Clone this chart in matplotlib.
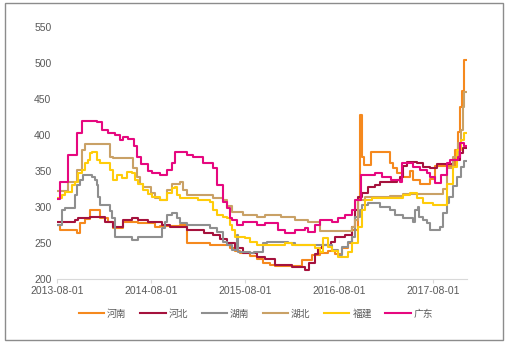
import matplotlib
matplotlib.use("Agg")
import matplotlib.pyplot as plt
import matplotlib.dates as mdates
import pandas as pd
from matplotlib.patches import Rectangle

plt.rcParams['font.family'] = ['Liberation Sans', 'Noto Sans CJK SC', 'DejaVu Sans']

names = ["河南", "河北", "湖南", "湖北", "福建", "广东"]
colors = ["#F5891E", "#A5123D", "#8F8F8F", "#C9A166", "#FFCC0A", "#E6087F"]

henan_dates = ["2013-08-01", "2013-08-13", "2013-10-18", "2013-10-29", "2013-11-18", "2013-12-07",
               "2014-01-15", "2014-02-15", "2014-03-07", "2014-04-14", "2014-06-12", "2014-08-17",
               "2014-09-05", "2014-11-22", "2014-12-19", "2015-03-19", "2015-06-04", "2015-06-24",
               "2015-07-13", "2015-08-20", "2015-09-16", "2015-10-10", "2015-11-06", "2015-11-25",
               "2016-03-09", "2016-04-17", "2016-05-18", "2016-06-18", "2016-07-15", "2016-08-12",
               "2016-09-04", "2016-09-19", "2016-10-13", "2016-10-22", "2016-10-28", "2016-11-05",
               "2016-12-01", "2017-02-14", "2017-02-26", "2017-03-13", "2017-04-06", "2017-05-03",
               "2017-05-14", "2017-06-11", "2017-07-19", "2017-08-08", "2017-10-25", "2017-11-05",
               "2017-11-13", "2017-11-20", "2017-11-28", "2017-12-05"]
henan_vals = [275, 268, 264, 278, 284, 296,
              285, 280, 271, 280, 278, 272,
              274, 276, 250, 247, 244, 240,
              237, 232, 228, 222, 220, 218,
              227, 234, 237, 240, 235, 243,
              250, 268, 310, 428, 370, 359,
              377, 361, 355, 347, 342, 350,
              338, 333, 340, 357, 380, 405,
              440, 462, 505, 505]

hebei_dates = ["2013-08-01", "2013-10-10", "2013-10-22", "2013-12-07", "2014-02-04", "2014-03-07",
               "2014-04-14", "2014-05-19", "2014-06-12", "2014-07-21", "2014-09-13", "2014-10-14",
               "2014-12-19", "2015-02-23", "2015-03-30", "2015-04-25", "2015-05-24", "2015-06-24",
               "2015-07-25", "2015-09-16", "2015-10-17", "2015-11-25", "2016-01-30", "2016-03-21",
               "2016-04-05", "2016-04-29", "2016-05-10", "2016-05-26", "2016-06-30", "2016-07-15",
               "2016-08-23", "2016-09-19", "2016-10-01", "2016-10-13", "2016-10-28", "2016-11-21",
               "2016-12-18", "2017-01-06", "2017-03-13", "2017-03-25", "2017-04-06", "2017-04-21",
               "2017-05-30", "2017-06-22", "2017-07-19", "2017-08-16", "2017-10-17", "2017-11-13",
               "2017-11-25", "2017-12-05"]
hebei_vals = [280, 282, 285, 286, 280, 272,
              282, 285, 282, 280, 275, 272,
              268, 265, 261, 256, 250, 243,
              236, 231, 228, 220, 217, 213,
              222, 235, 243, 248, 252, 259,
              262, 273, 296, 314, 320, 328,
              331, 335, 338, 342, 358, 363,
              361, 356, 354, 360, 366, 375,
              382, 382]

hunan_dates = ["2013-08-01", "2013-08-20", "2013-09-01", "2013-10-10", "2013-10-18", "2013-10-29",
               "2013-11-10", "2013-12-15", "2013-12-25", "2014-01-03", "2014-01-07", "2014-01-15",
               "2014-02-23", "2014-03-03", "2014-03-14", "2014-05-19", "2014-06-12", "2014-09-13",
               "2014-09-25", "2014-10-02", "2014-10-22", "2014-11-10", "2014-11-22", "2014-12-19",
               "2015-03-19", "2015-04-15", "2015-05-08", "2015-05-24", "2015-06-12", "2015-07-01",
               "2015-07-06", "2015-08-20", "2015-09-05", "2015-10-10", "2015-10-24", "2016-01-15",
               "2016-02-11", "2016-07-04", "2016-07-27", "2016-08-12", "2016-09-04", "2016-09-19",
               "2016-10-01", "2016-10-20", "2016-10-28", "2016-11-21", "2017-01-06", "2017-02-14",
               "2017-03-05", "2017-04-06", "2017-05-14", "2017-05-24", "2017-06-03", "2017-06-08",
               "2017-06-22", "2017-07-08", "2017-07-19", "2017-08-27", "2017-09-08", "2017-09-24",
               "2017-10-01", "2017-10-17", "2017-11-01", "2017-11-17", "2017-11-28", "2017-12-05"]
hunan_vals = [275, 296, 299, 317, 331, 338,
              345, 342, 338, 331, 315, 303,
              295, 285, 259, 255, 259, 271,
              280, 289, 292, 285, 278, 275,
              271, 266, 252, 247, 241, 262,
              238, 236, 238, 250, 252, 250,
              248, 241, 234, 245, 252, 259,
              286, 296, 303, 306, 300, 296,
              289, 285, 280, 296, 300, 287,
              282, 278, 269, 273, 292, 306,
              314, 330, 342, 356, 365, 365]

hubei_dates = ["2013-08-01", "2013-09-13", "2013-10-18", "2013-11-06", "2013-11-18", "2014-02-23",
               "2014-03-07", "2014-05-23", "2014-06-08", "2014-06-20", "2014-07-01", "2014-08-01",
               "2014-08-17", "2014-09-05", "2014-10-02", "2014-10-22", "2014-11-22", "2014-12-04",
               "2014-12-19", "2015-03-30", "2015-05-08", "2015-05-24", "2015-06-12", "2015-07-25",
               "2015-09-16", "2015-10-17", "2015-12-20", "2016-02-11", "2016-04-01", "2016-05-18",
               "2016-09-19", "2016-10-01", "2016-10-13", "2016-11-09", "2017-02-14", "2017-04-06",
               "2017-08-27", "2017-09-08", "2017-09-24", "2017-10-17", "2017-11-05", "2017-11-17",
               "2017-11-25", "2017-11-30", "2017-12-05"]
hubei_vals = [322, 335, 352, 379, 388, 370,
              368, 355, 342, 333, 328, 320,
              313, 310, 324, 333, 335, 324,
              317, 313, 310, 302, 293, 289,
              286, 290, 286, 282, 280, 267,
              273, 282, 310, 314, 316, 319,
              318, 326, 355, 370, 389, 407,
              440, 460, 460]

fujian_dates = ["2013-08-01", "2013-08-20", "2013-09-01", "2013-09-28", "2013-10-10", "2013-10-22",
                "2013-11-06", "2013-11-18", "2013-11-29", "2013-12-07", "2013-12-15", "2014-01-03",
                "2014-01-15", "2014-02-23", "2014-03-07", "2014-03-22", "2014-04-11", "2014-04-30",
                "2014-05-19", "2014-05-31", "2014-06-12", "2014-07-01", "2014-07-21", "2014-08-05",
                "2014-09-05", "2014-10-02", "2014-10-22", "2014-11-03", "2014-11-10", "2014-11-22",
                "2015-01-31", "2015-03-19", "2015-03-30", "2015-04-15", "2015-05-08", "2015-05-24",
                "2015-06-04", "2015-06-12", "2015-06-24", "2015-08-01", "2015-08-20", "2015-09-16",
                "2016-01-03", "2016-01-30", "2016-04-29", "2016-05-18", "2016-05-30", "2016-06-18",
                "2016-07-04", "2016-07-27", "2016-09-04", "2016-09-19", "2016-10-13", "2016-10-28",
                "2016-11-09", "2016-12-06", "2017-04-06", "2017-05-03", "2017-05-30", "2017-06-22",
                "2017-08-01", "2017-09-24", "2017-10-17", "2017-11-01", "2017-11-17", "2017-11-28",
                "2017-12-05"]
fujian_vals = [313, 317, 321, 331, 335, 348,
               352, 361, 366, 375, 377, 366,
               361, 352, 338, 345, 341, 349,
               348, 338, 333, 324, 318, 314,
               310, 320, 327, 328, 317, 313,
               310, 307, 296, 289, 286, 285,
               275, 268, 259, 257, 252, 247,
               250, 247, 244, 238, 257, 245,
               240, 231, 238, 250, 272, 296,
               310, 313, 317, 320, 313, 306,
               303, 333, 356, 380, 393, 403,
               403]

guangdong_dates = ["2013-08-01", "2013-08-13", "2013-09-13", "2013-10-18", "2013-11-06", "2014-01-03",
                   "2014-01-23", "2014-02-15", "2014-03-14", "2014-04-03", "2014-04-14", "2014-05-05",
                   "2014-05-27", "2014-06-08", "2014-06-25", "2014-07-21", "2014-08-05", "2014-09-05",
                   "2014-10-02", "2014-10-22", "2014-11-03", "2014-12-19", "2015-01-11", "2015-02-20",
                   "2015-03-30", "2015-04-15", "2015-05-08", "2015-05-24", "2015-06-04", "2015-06-12",
                   "2015-07-01", "2015-07-25", "2015-09-16", "2015-10-17", "2015-12-07", "2016-01-03",
                   "2016-02-11", "2016-03-21", "2016-04-01", "2016-04-29", "2016-05-18", "2016-07-04",
                   "2016-07-27", "2016-08-23", "2016-09-19", "2016-10-01", "2016-10-24", "2016-12-18",
                   "2017-01-15", "2017-02-20", "2017-03-25", "2017-04-02", "2017-05-14", "2017-06-11",
                   "2017-07-08", "2017-07-19", "2017-08-08", "2017-09-01", "2017-09-24", "2017-10-05",
                   "2017-11-05", "2017-11-13", "2017-11-28", "2017-12-05"]
guangdong_vals = [311, 335, 373, 403, 420, 418,
                  407, 403, 400, 393, 398, 395,
                  385, 370, 360, 350, 347, 345,
                  352, 361, 377, 373, 370, 362,
                  355, 331, 307, 299, 285, 282,
                  275, 280, 275, 278, 268, 264,
                  268, 271, 266, 275, 282, 280,
                  285, 289, 296, 310, 345, 348,
                  342, 338, 335, 361, 356, 352,
                  348, 342, 334, 345, 361, 366,
                  370, 389, 385, 385]

series = [(henan_dates, henan_vals), (hebei_dates, hebei_vals), (hunan_dates, hunan_vals),
          (hubei_dates, hubei_vals), (fujian_dates, fujian_vals), (guangdong_dates, guangdong_vals)]

tick_labels = ["2013-08-01", "2014-08-01", "2015-08-01", "2016-08-01", "2017-08-01"]
y_ticks = [200, 250, 300, 350, 400, 450, 500, 550]

fig = plt.figure(figsize=(5.07, 3.44), dpi=100)
ax = fig.add_axes([0.1124, 0.188, 0.8086, 0.7326])

for (d, v), name, c in zip(series, names, colors):
    ax.plot(pd.to_datetime(d), v, drawstyle="steps-post", color=c, lw=1.5, label=name)

ax.set_ylim(200, 550)
ax.set_yticks(y_ticks)
ax.set_xlim(pd.Timestamp("2013-08-01"), pd.Timestamp("2017-12-10"))
ax.set_xticks(pd.to_datetime(tick_labels))
ax.set_xticklabels(tick_labels)

for s in ["top", "right", "left"]:
    ax.spines[s].set_visible(False)
ax.spines["bottom"].set_color("#D9D9D9")
ax.spines["bottom"].set_linewidth(0.8)
ax.tick_params(axis="y", length=0, labelsize=7.5, labelcolor="#595959", pad=4)
ax.tick_params(axis="x", length=3, color="#D9D9D9", labelsize=7.5, labelcolor="#595959", pad=2)

leg = fig.legend(loc="center", bbox_to_anchor=(0.505, 0.088), ncol=6, frameon=False,
                 handlelength=2.6, columnspacing=1.4, handletextpad=0.3,
                 prop={"family": ["Noto Sans CJK SC"], "size": 7})
for t in leg.get_texts():
    t.set_color("#595959")

fig.patches.append(Rectangle((5 / 507, 1 - 340 / 344), 498 / 507, 337 / 344,
                             transform=fig.transFigure, fill=False,
                             edgecolor="#8C8C8C", lw=1.0))

fig.savefig("out.png", dpi=100)
